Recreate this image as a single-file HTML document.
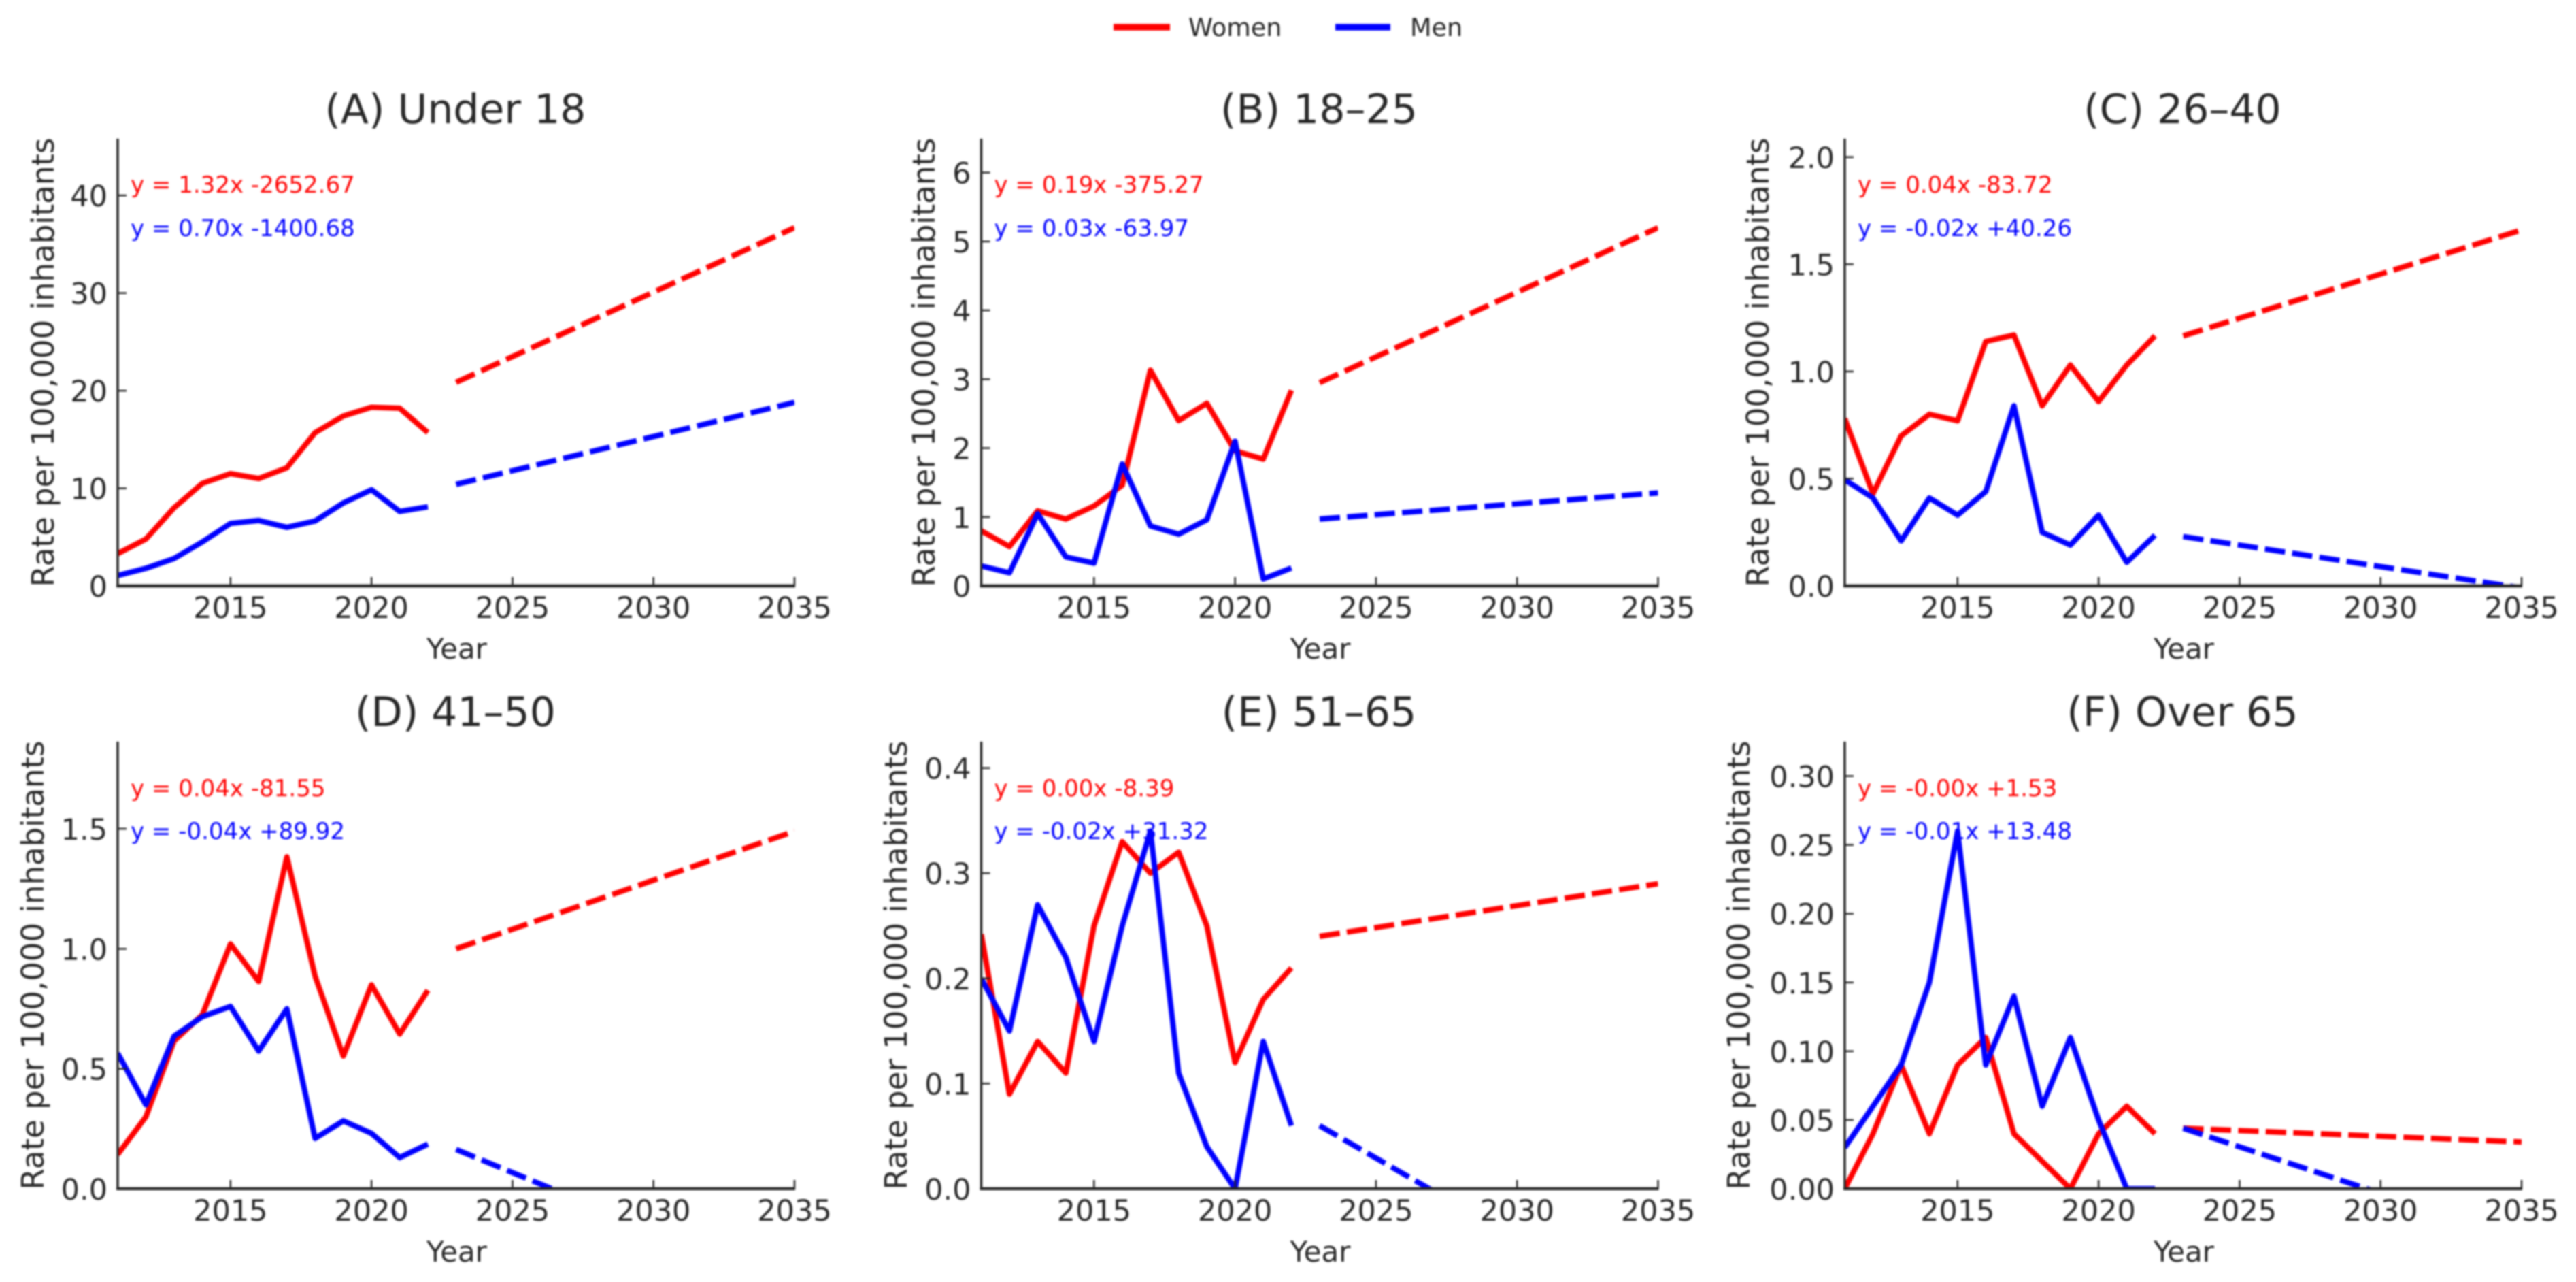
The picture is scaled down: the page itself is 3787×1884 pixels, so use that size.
<!DOCTYPE html>
<html>
<head>
<meta charset="utf-8">
<title>Rates per 100,000 inhabitants by age group</title>
<style>
html,body{margin:0;padding:0;background:#fff;}
#figure{display:block;width:3787px;height:1884px;filter:blur(1.3px);}
text{font-family:"DejaVu Sans","Liberation Sans",sans-serif;}
</style>
</head>
<body>
<svg id="figure" xmlns="http://www.w3.org/2000/svg" width="3787" height="1884" viewBox="0 0 3787 1884">
  <rect width="3787" height="1884" fill="#ffffff"/>
  <g>
    <line x1="1637" y1="40" x2="1720" y2="40" stroke="#ff0000" stroke-width="9.5"/>
    <text x="1747" y="53" font-size="36.5" fill="#262626">Women</text>
    <line x1="1963" y1="40" x2="2044" y2="40" stroke="#0000ff" stroke-width="9.5"/>
    <text x="2073" y="53" font-size="36.5" fill="#262626">Men</text>
  </g>
</svg>
<script>
const years = [2011, 2012, 2013, 2014, 2015, 2016, 2017, 2018, 2019, 2020, 2021, 2022];
const trendYears = [2023, 2035];
const xTicks = [2015, 2020, 2025, 2030, 2035];
const xTickLabels = ["2015", "2020", "2025", "2030", "2035"];

const womenA = [3.3, 4.8, 8.0, 10.5, 11.5, 11.0, 12.1, 15.7, 17.4, 18.3, 18.2, 15.7];
const menA = [1.06, 1.8, 2.8, 4.5, 6.4, 6.7, 6.0, 6.65, 8.5, 9.85, 7.63, 8.1];
const womenTrendA = [20.85, 36.7];
const menTrendA = [10.4, 18.8];
const yTicksA = [0, 10, 20, 30, 40];
const yTickLabelsA = ["0", "10", "20", "30", "40"];
const yMaxA = 45.8;

const womenB = [0.8, 0.57, 1.09, 0.97, 1.16, 1.46, 3.13, 2.4, 2.65, 1.96, 1.84, 2.84];
const menB = [0.29, 0.19, 1.05, 0.42, 0.33, 1.77, 0.87, 0.75, 0.96, 2.1, 0.1, 0.26];
const womenTrendB = [2.95, 5.2];
const menTrendB = [0.97, 1.35];
const yTicksB = [0, 1, 2, 3, 4, 5, 6];
const yTickLabelsB = ["0", "1", "2", "3", "4", "5", "6"];
const yMaxB = 6.49;

const womenC = [0.78, 0.43, 0.7, 0.8, 0.77, 1.14, 1.17, 0.84, 1.03, 0.86, 1.03, 1.166];
const menC = [0.495, 0.41, 0.21, 0.41, 0.33, 0.44, 0.84, 0.25, 0.19, 0.33, 0.11, 0.236];
const womenTrendC = [1.166, 1.66];
const menTrendC = [0.23, -0.01];
const yTicksC = [0, 0.5, 1, 1.5, 2];
const yTickLabelsC = ["0.0", "0.5", "1.0", "1.5", "2.0"];
const yMaxC = 2.085;

const womenD = [0.143, 0.3, 0.616, 0.725, 1.02, 0.864, 1.383, 0.886, 0.553, 0.85, 0.645, 0.827];
const menD = [0.565, 0.35, 0.636, 0.717, 0.76, 0.574, 0.75, 0.21, 0.283, 0.231, 0.13, 0.186];
const womenTrendD = [1.0, 1.49];
const menTrendD = [0.164, -0.415];
const yTicksD = [0, 0.5, 1, 1.5];
const yTickLabelsD = ["0.0", "0.5", "1.0", "1.5"];
const yMaxD = 1.863;

const womenE = [0.242, 0.09, 0.14, 0.11, 0.25, 0.33, 0.3, 0.32, 0.25, 0.12, 0.18, 0.21];
const menE = [0.2, 0.15, 0.27, 0.22, 0.14, 0.25, 0.34, 0.11, 0.04, 0, 0.14, 0.06];
const womenTrendE = [0.24, 0.29];
const menTrendE = [0.06, -0.125];
const yTicksE = [0, 0.1, 0.2, 0.3, 0.4];
const yTickLabelsE = ["0.0", "0.1", "0.2", "0.3", "0.4"];
const yMaxE = 0.425;

const womenF = [0, 0.04, 0.09, 0.04, 0.09, 0.11, 0.04, 0.02, 0, 0.04, 0.06, 0.04];
const menF = [0.03, 0.06, 0.09, 0.15, 0.26, 0.09, 0.14, 0.06, 0.11, 0.05, 0, 0];
const womenTrendF = [0.044, 0.034];
const menTrendF = [0.044, -0.037];
const yTicksF = [0, 0.05, 0.1, 0.15, 0.2, 0.25, 0.3];
const yTickLabelsF = ["0.00", "0.05", "0.10", "0.15", "0.20", "0.25", "0.30"];
const yMaxF = 0.325;

const titles = ["(A) Under 18", "(B) 18\u201325", "(C) 26\u201340", "(D) 41\u201350", "(E) 51\u201365", "(F) Over 65"];
const womenEquations = ["y = 1.32x -2652.67", "y = 0.19x -375.27", "y = 0.04x -83.72", "y = 0.04x -81.55", "y = 0.00x -8.39", "y = -0.00x +1.53"];
const menEquations = ["y = 0.70x -1400.68", "y = 0.03x -63.97", "y = -0.02x +40.26", "y = -0.04x +89.92", "y = -0.02x +31.32", "y = -0.01x +13.48"];
const yAxisTitle = "Rate per 100,000 inhabitants";
const xAxisTitle = "Year";

const seriesWomen = [womenA, womenB, womenC, womenD, womenE, womenF];
const seriesMen = [menA, menB, menC, menD, menE, menF];
const trendWomen = [womenTrendA, womenTrendB, womenTrendC, womenTrendD, womenTrendE, womenTrendF];
const trendMen = [menTrendA, menTrendB, menTrendC, menTrendD, menTrendE, menTrendF];
const yTickSets = [yTicksA, yTicksB, yTicksC, yTicksD, yTicksE, yTicksF];
const yTickLabelSets = [yTickLabelsA, yTickLabelsB, yTickLabelsC, yTickLabelsD, yTickLabelsE, yTickLabelsF];
const yMaxes = [yMaxA, yMaxB, yMaxC, yMaxD, yMaxE, yMaxF];

const NS = "http://www.w3.org/2000/svg";
const svg = document.getElementById("figure");

function make(tag, attrs, parent) {
  const el = document.createElementNS(NS, tag);
  for (const k in attrs) el.setAttribute(k, attrs[k]);
  parent.appendChild(el);
  return el;
}

function drawPanel(i) {
  const col = i % 3;
  const row = Math.floor(i / 3);
  const left = 173 + col * 1269.5;
  const width = 995;
  const bottom = row === 0 ? 861 : 1747;
  const top = bottom - 657;
  const labelBase = [[79, 1374, 2600], [64, 1333, 2572]][row][col];
  const xMin = 2011, xMax = 2035;
  const xScale = function (v) { return left + (v - xMin) / (xMax - xMin) * width; };
  const yScale = function (v) { return bottom - v / yMaxes[i] * (bottom - top); };
  const letter = "abcdef"[i];

  const panel = make("g", {}, svg);
  
  

  const clip = make("clipPath", { id: "clip-" + letter }, panel);
  make("rect", { x: left, y: top, width: width, height: bottom - top }, clip);

  const plot = make("g", { "clip-path": "url(#clip-" + letter + ")" }, panel);
  
  

  function pathFrom(xs, ys) {
    return xs.map(function (x, j) {
      return (j ? "L" : "M") + xScale(x).toFixed(2) + " " + yScale(ys[j]).toFixed(2);
    }).join(" ");
  }

  const womenLine = make("path", { d: pathFrom(years, seriesWomen[i]), fill: "none", stroke: "#ff0000", "stroke-width": 8, "stroke-linejoin": "round" }, plot);
  
  

  const menLine = make("path", { d: pathFrom(years, seriesMen[i]), fill: "none", stroke: "#0000ff", "stroke-width": 8, "stroke-linejoin": "round" }, plot);
  
  

  const womenTrend = make("path", { d: pathFrom(trendYears, trendWomen[i]), fill: "none", stroke: "#ff0000", "stroke-width": 8, "stroke-dasharray": "30 10.5" }, plot);
  
  

  const menTrend = make("path", { d: pathFrom(trendYears, trendMen[i]), fill: "none", stroke: "#0000ff", "stroke-width": 8, "stroke-dasharray": "30 10.5" }, plot);
  
  

  const ySpine = make("line", { x1: left, y1: top, x2: left, y2: bottom + 2, stroke: "#262626", "stroke-width": 3.5 }, panel);
  
  

  const xSpine = make("line", { x1: left - 2, y1: bottom, x2: left + width + 1, y2: bottom, stroke: "#262626", "stroke-width": 4.5 }, panel);
  
  

  xTicks.forEach(function (t, j) {
    const tick = make("line", { x1: xScale(t), y1: bottom, x2: xScale(t), y2: bottom - 13, stroke: "#262626", "stroke-width": 2.5 }, panel);
    
    
    const label = make("text", { x: xScale(t), y: bottom + 47, "font-size": 43, "text-anchor": "middle", fill: "#262626" }, panel);
    label.textContent = xTickLabels[j];
    
    
  });

  yTickSets[i].forEach(function (t, j) {
    const tick = make("line", { x1: left, y1: yScale(t), x2: left + 13, y2: yScale(t), stroke: "#262626", "stroke-width": 2.5 }, panel);
    
    
    const label = make("text", { x: left - 15, y: yScale(t) + 16, "font-size": 43, "text-anchor": "end", fill: "#262626" }, panel);
    label.textContent = yTickLabelSets[i][j];
    
    
  });

  const title = make("text", { x: left + width / 2 - 1, y: bottom - 680, "font-size": 60, "text-anchor": "middle", fill: "#262626" }, panel);
  title.textContent = titles[i];
  
  

  const xTitle = make("text", { x: left + width / 2 + 1, y: bottom + 107, "font-size": 42, "text-anchor": "middle", fill: "#262626" }, panel);
  xTitle.textContent = xAxisTitle;
  
  

  const yTitle = make("text", { x: 0, y: 0, "font-size": 45, "text-anchor": "middle", fill: "#262626", transform: "translate(" + labelBase + " " + ((top + bottom) / 2) + ") rotate(-90)" }, panel);
  yTitle.textContent = yAxisTitle;
  
  

  const eqWomenY = row === 0 ? 283 : 1170;
  const eqMenY = row === 0 ? 347 : 1233;

  const womenEq = make("text", { x: left + 19, y: eqWomenY, "font-size": 34, fill: "#ff0000" }, panel);
  womenEq.textContent = womenEquations[i];
  
  

  const menEq = make("text", { x: left + 19, y: eqMenY, "font-size": 34, fill: "#0000ff" }, panel);
  menEq.textContent = menEquations[i];
  
  
}

for (let i = 0; i < 6; i++) drawPanel(i);
</script>
</body>
</html>
